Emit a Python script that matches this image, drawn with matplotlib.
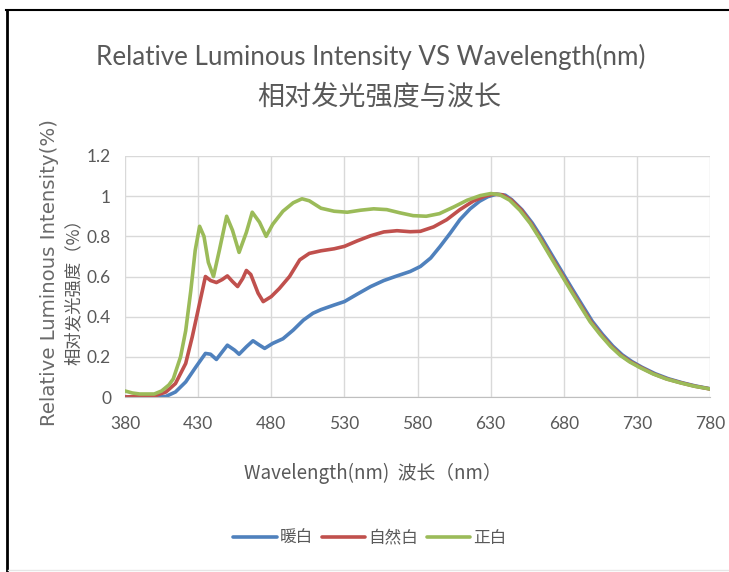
import matplotlib
matplotlib.use("Agg")
import matplotlib.pyplot as plt
from matplotlib.lines import Line2D

plt.rcParams['font.family'] = ['Noto Sans CJK SC', 'DejaVu Sans']

# ---- data ----
series_names = ["暖白", "自然白", "正白"]
series_colors = ["#4F81BD", "#C0504D", "#9BBB59"]

warm_wl = [380, 400, 408, 414.5, 421.5, 428.5, 435, 438.5, 442.5, 446.5, 450, 455, 458, 463, 467.5,
           472, 475.5, 481, 488, 495, 502, 508.5, 514, 523, 530, 539, 548, 557, 566, 575, 582, 589,
           595.5, 602.5, 609, 616, 622.5, 628, 634, 640, 644.5, 651.5, 658.5, 665, 671.5, 678.5, 685.5, 692.5,
           699.5, 706.5, 713.5, 720, 726.5, 733.5, 742.5, 751.5, 761, 770, 780]
warm_val = [0.0, 0.0, 0.003, 0.025, 0.075, 0.15, 0.217, 0.213, 0.187, 0.225, 0.258, 0.233, 0.213, 0.25, 0.28,
            0.258, 0.242, 0.267, 0.29, 0.333, 0.383, 0.417, 0.435, 0.458, 0.475, 0.513, 0.55, 0.58, 0.603, 0.625, 0.65, 0.692,
            0.75, 0.817, 0.883, 0.937, 0.975, 0.997, 1.01, 1.005, 0.982, 0.932, 0.866, 0.792, 0.712, 0.627, 0.542, 0.459,
            0.377, 0.312, 0.254, 0.21, 0.177, 0.148, 0.116, 0.091, 0.071, 0.055, 0.041]

natural_wl = [380, 390, 400, 408, 414.5, 421.5, 426, 430.5, 435, 438.5, 442.5, 446.5, 450, 453.5, 457, 460.5,
              463, 466, 471, 474.5, 480, 485.5, 492.5, 499.5, 506, 514, 523, 530, 539, 548, 557, 566, 575,
              582, 591, 600, 609, 618, 626, 632, 638, 644, 651, 657.5, 664, 670.5, 677.5, 684.5, 691.5, 698.5, 705.5,
              712.5, 719, 725.5, 732.5, 741.5, 750.5, 760.5, 769.5, 780]
natural_val = [0.0, 0.003, 0.005, 0.025, 0.067, 0.167, 0.3, 0.45, 0.6, 0.58, 0.57, 0.585, 0.603, 0.575, 0.55, 0.59,
               0.63, 0.61, 0.517, 0.475, 0.5, 0.54, 0.6, 0.683, 0.715, 0.728, 0.738, 0.75, 0.778, 0.803, 0.822, 0.828, 0.823,
               0.825, 0.847, 0.883, 0.933, 0.975, 1.0, 1.01, 1.007, 0.981, 0.931, 0.866, 0.791, 0.711, 0.626, 0.541, 0.458, 0.376, 0.311,
               0.253, 0.209, 0.176, 0.148, 0.115, 0.09, 0.07, 0.054, 0.04]

pure_wl = [380, 385, 390, 400, 405, 410, 413, 418, 421.5, 425, 428, 431, 434, 437, 440.5, 444.5, 449.5, 453.5,
           458, 463, 467, 472, 476.5, 481, 488, 495, 501, 506, 514, 523, 532, 541, 550, 559, 568, 577, 586,
           595, 605, 614, 623, 630, 636, 643, 650, 657, 663.5, 670, 677, 684, 691, 698, 705, 712, 718.5,
           725, 732, 741, 750, 760, 769, 780]
pure_val = [0.03, 0.02, 0.015, 0.015, 0.03, 0.06, 0.09, 0.2, 0.33, 0.53, 0.73, 0.85, 0.8, 0.67, 0.6, 0.73, 0.9, 0.83,
            0.72, 0.82, 0.92, 0.87, 0.8, 0.86, 0.925, 0.967, 0.987, 0.977, 0.94, 0.925, 0.92, 0.93, 0.937, 0.933, 0.917, 0.903, 0.9,
            0.913, 0.947, 0.98, 1.003, 1.013, 1.008, 0.98, 0.93, 0.865, 0.79, 0.71, 0.625, 0.54, 0.457, 0.375, 0.31, 0.252, 0.208,
            0.175, 0.147, 0.115, 0.09, 0.07, 0.054, 0.04]

x_ticks = [380, 430, 480, 530, 580, 630, 680, 730, 780]
y_ticks = [0, 0.2, 0.4, 0.6, 0.8, 1.0, 1.2]
y_tick_labels = ["0", "0.2", "0.4", "0.6", "0.8", "1", "1.2"]

title_en = "Relative Luminous Intensity VS Wavelength(nm)"
title_cn = "相对发光强度与波长"
ylabel_en = "Relative Luminous Intensity(%)"
ylabel_cn = "相对发光强度（%）"
xlabel = "Wavelength(nm)  波长（nm）"

# ---- figure ----
W, H = 729, 572
fig = plt.figure(figsize=(W / 100, H / 100), dpi=100)
fig.patch.set_facecolor("white")

def fx(px):
    return px / W

def fy(py):
    return 1 - py / H

ax_l, ax_r, ax_t, ax_b = 125, 710, 156, 397
ax = fig.add_axes([fx(ax_l), fy(ax_b), fx(ax_r) - fx(ax_l), fy(ax_t) - fy(ax_b)])

lines = []
for wl, val, name, col in zip([warm_wl, natural_wl, pure_wl], [warm_val, natural_val, pure_val],
                              series_names, series_colors):
    ln, = ax.plot(wl, val, color=col, lw=2.6, solid_capstyle="round", solid_joinstyle="round", label=name)
    lines.append(ln)

ax.set_xlim(380, 780)
ax.set_ylim(0, 1.2)
ax.set_xticks(x_ticks)
ax.set_yticks(y_ticks)
ax.set_yticklabels(y_tick_labels)
ax.grid(True, color="#D9D9D9", lw=1.0)
ax.set_axisbelow(True)
for s in ["top", "right", "left"]:
    ax.spines[s].set_visible(False)
ax.spines["bottom"].set_color("#BFBFBF")
ax.tick_params(axis="y", length=0, labelsize=12.5, colors="#595959", pad=10)
ax.tick_params(axis="x", length=0, labelsize=12.5, colors="#595959", pad=14)
for lab in ax.get_xticklabels() + ax.get_yticklabels():
    lab.set_family(["Lato", "DejaVu Sans"])

# titles
fig.text(fx(371), fy(57), title_en, ha="center", va="center", fontsize=18.7, color="#595959",
         family=["Lato", "DejaVu Sans"])
fig.text(fx(379), fy(97), title_cn, ha="center", va="center", fontsize=19.5, color="#595959",
         family=["Noto Sans CJK SC", "DejaVu Sans"])

# y labels
fig.text(fx(50), fy(272), ylabel_en, ha="center", va="center", rotation=90, fontsize=14.2,
         color="#6A6A6A", family=["DejaVu Sans"])
fig.text(fx(74), fy(288), ylabel_cn, ha="center", va="center", rotation=90, fontsize=12.5,
         color="#595959", family=["Noto Sans CJK SC", "DejaVu Sans"])

# x label
fig.text(fx(373), fy(473), xlabel, ha="center", va="center", fontsize=13.5, color="#595959",
         family=["Noto Sans CJK SC", "DejaVu Sans"])

# legend
leg = fig.legend(handles=lines, labels=series_names, loc="center", bbox_to_anchor=(fx(370), fy(538)),
                 ncol=3, frameon=False, fontsize=12, handlelength=2.6, handletextpad=0.2,
                 columnspacing=0.5, labelcolor="#595959")

# frame lines
fig.add_artist(Line2D([fx(7), fx(7)], [fy(10), fy(572)], color="black", lw=2))
fig.add_artist(Line2D([fx(6), fx(729)], [fy(10), fy(10)], color="black", lw=1.5))
fig.add_artist(Line2D([fx(8), fx(729)], [fy(570), fy(570)], color="#E6E6E6", lw=1))

fig.savefig("out.png", dpi=100)
